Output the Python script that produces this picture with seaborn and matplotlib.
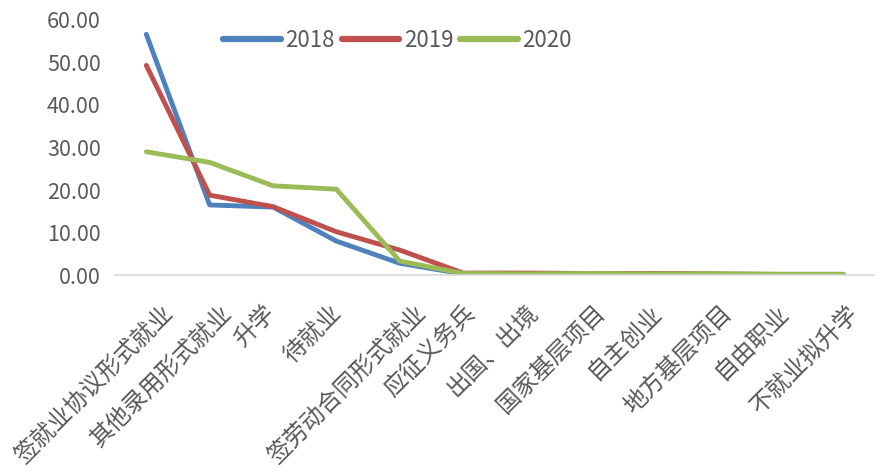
import pandas as pd
import matplotlib.pyplot as plt
import matplotlib.transforms as mtransforms
import seaborn as sns

# categories and values
categories = ['签就业协议形式就业', '其他录用形式就业', '升学', '待就业', '签劳动合同形式就业',
              '应征义务兵', '出国、出境', '国家基层项目', '自主创业', '地方基层项目',
              '自由职业', '不就业拟升学']
years = ['2018', '2019', '2020']
values_2018 = [56.6, 16.5, 16.0, 8.0, 2.8, 0.3, 0.4, 0.3, 0.3, 0.2, 0.1, 0.1]
values_2019 = [49.3, 18.8, 16.1, 10.2, 5.9, 0.5, 0.5, 0.4, 0.4, 0.3, 0.2, 0.2]
values_2020 = [29.0, 26.5, 21.0, 20.2, 3.3, 0.4, 0.3, 0.4, 0.3, 0.3, 0.2, 0.2]
yticks = [0, 10, 20, 30, 40, 50, 60]

colors = ['#4F81BD', '#C0504D', '#9BBB59']

def main():
    sns.set_style('white')
    plt.rcParams['font.family'] = ['Noto Sans CJK SC', 'DejaVu Sans']

    rows = []
    for year, vals in zip(years, [values_2018, values_2019, values_2020]):
        for i, v in enumerate(vals):
            rows.append({'pos': i, 'value': v, 'year': year})
    df = pd.DataFrame(rows)

    fig = plt.figure(figsize=(8.75, 4.72), dpi=100)
    ax = fig.add_axes([0.131, 0.417, 0.869, 0.541])

    sns.lineplot(data=df, x='pos', y='value', hue='year', palette=colors,
                 linewidth=3.5, ax=ax)

    ax.set_xlim(-0.5, len(categories) - 0.5)
    ax.set_ylim(0, 60)
    ax.set_yticks(yticks)
    ax.set_yticklabels([f'{t:.2f}' for t in yticks], fontsize=15.5, color='#595959')
    ax.set_xticks(range(len(categories)))
    ax.set_xticklabels(categories, rotation=45, ha='right', va='top',
                       rotation_mode='anchor', fontsize=17, color='#595959')
    ax.tick_params(axis='both', length=0)
    ax.tick_params(axis='x', pad=0)
    ax.tick_params(axis='y', pad=10)
    ax.set_xlabel('')
    ax.set_ylabel('')

    # Excel shifts longer rotated labels further right of their tick
    for lab in ax.get_xticklabels():
        n = len(lab.get_text())
        dx = (3.5 * n - 17) / 100
        offset = mtransforms.ScaledTranslation(dx, -0.26, fig.dpi_scale_trans)
        lab.set_transform(lab.get_transform() + offset)

    for side in ['top', 'right', 'left']:
        ax.spines[side].set_visible(False)
    ax.spines['bottom'].set_color('#D9D9D9')
    ax.spines['bottom'].set_linewidth(1.2)

    handles, labels = ax.get_legend_handles_labels()
    for h in handles:
        h.set_linewidth(4.5)
    ax.legend(handles, labels, loc='center', bbox_to_anchor=(0.372, 0.92),
              ncol=3, frameon=False, fontsize=16, handlelength=2.6,
              handletextpad=0.2, columnspacing=0.3, labelcolor='#595959')

    plt.savefig('out.png', dpi=100)
    plt.close()

if __name__ == "__main__":
    main()
